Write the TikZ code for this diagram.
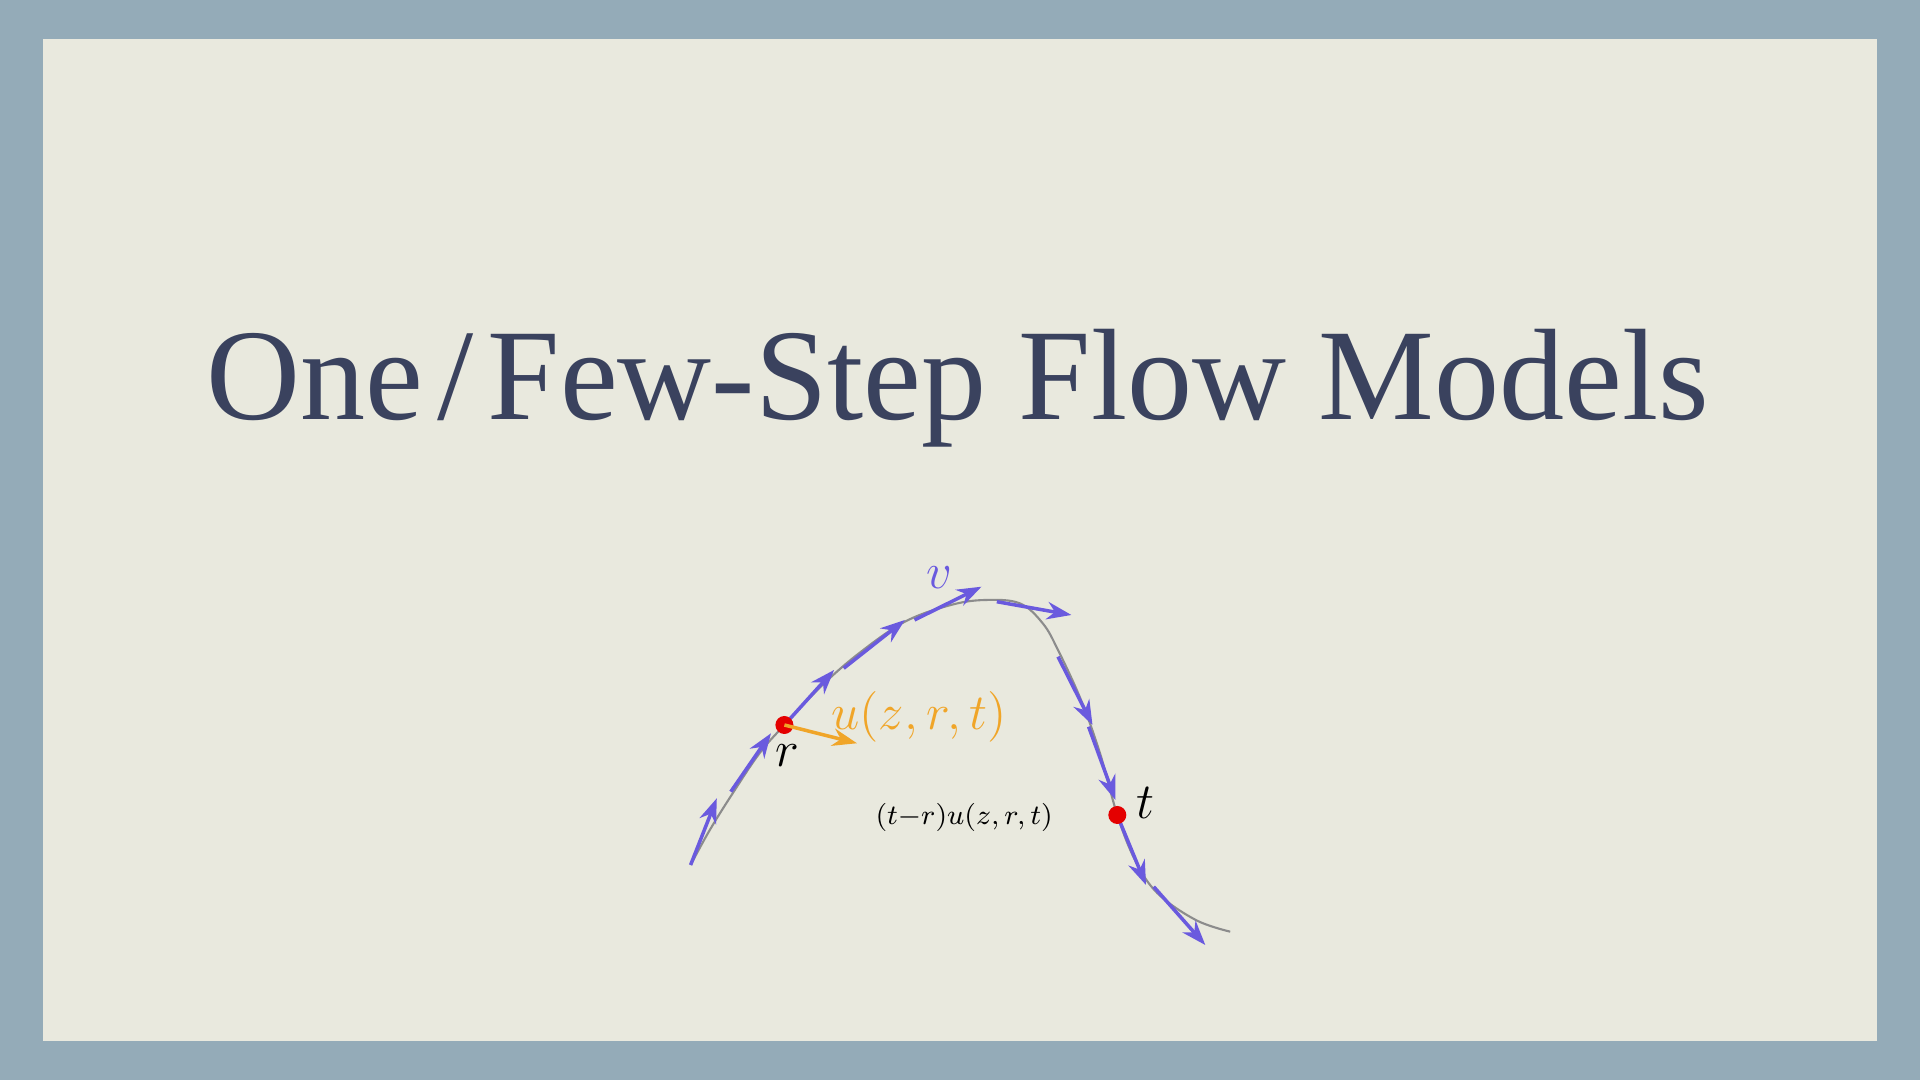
\documentclass[tikz,border=0pt]{standalone}
\usepackage{fontspec}
\usetikzlibrary{arrows.meta,positioning}
\newfontfamily\titlefont{Liberation Serif}

\definecolor{framegray}{RGB}{148,171,184}
\definecolor{paper}{RGB}{233,233,222}
\definecolor{titleink}{RGB}{58,66,94}
\definecolor{flowblue}{RGB}{106,90,222}
\definecolor{uorange}{RGB}{240,165,40}
\definecolor{dotred}{RGB}{228,0,0}
\definecolor{pathgray}{RGB}{140,140,140}

\tikzset{
  flowarrow/.style={flowblue, line width=1pt, -{Stealth[length=7pt,width=5pt]}},
  timedot/.style={circle, fill=dotred, inner sep=0pt, minimum size=0.18cm},
  biglabel/.style={font=\fontsize{13.6}{16}\selectfont, inner sep=0pt}
}

\begin{document}
\begin{tikzpicture}[x=0.01cm, y=-0.01cm]

    % Slide frame and paper
    \fill[framegray] (0,0) rectangle (1920,1080);
    \fill[paper] (43,39) rectangle (1877,1041);
    \useasboundingbox (0,0) rectangle (1920,1080);

    % Title
    \node[anchor=base, text=titleink, inner sep=0pt, font=\titlefont\fontsize{37}{40}\selectfont] (title) at (958,420) {One\kern4pt/\kern4pt Few-Step Flow Models};

    % Gray trajectory
    \draw[pathgray, line width=0.6pt] plot[smooth, tension=0.6] coordinates {
      (690.6,865) (709.8,830) (732.7,793.3) (759.5,753.3) (784.4,725)
      (820.7,686.7) (859,653.3) (904.9,621.7) (950.9,605) (985.3,600)
      (1019.7,603.3) (1042.7,623.3) (1058,650) (1081,700) (1100,753.3)
      (1117.3,815) (1135,860) (1157.5,893.3) (1195.8,920) (1230.2,931.7)};

    % Blue velocity steps v along the path
    \draw[flowarrow] (690.6,865) -- (716.8,798.3);
    \draw[flowarrow] (730.8,791.7) -- (771,733.3);
    \draw[flowarrow] (784.4,725) -- (834.1,670);
    \draw[flowarrow] (843.7,668.3) -- (904.9,620);
    \draw[flowarrow] (914.5,620) -- (981.5,586.7);
    \draw[flowarrow] (996.8,601.7) -- (1071.4,615);
    \draw[flowarrow] (1058,656.7) -- (1092.5,725);
    \draw[flowarrow] (1088.6,726.7) -- (1115.4,800);
    \draw[flowarrow] (1119.2,820) -- (1146,885);
    \draw[flowarrow] (1153.7,886.7) -- (1205.3,945);
    \node[biglabel, text=flowblue] (vlab) at (939,578) {$v$};

    % Red points r and t
    \node[timedot] (r) at (784.4,725) {};
    \node[timedot] (t) at (1117.3,815) {};
    \node[biglabel] (rlab) at (787,756) {$r$};
    \node[biglabel] (tlab) at (1145,803) {$t$};

    % Orange average velocity u
    \coordinate (uend) at (857,743.3);
    \draw[uorange, line width=1pt, -{Stealth[length=7pt,width=5pt]}] (r.center) -- (uend);
    \node[biglabel, text=uorange] (ulab) at (919,717) {$u(z,r,t)$};

    % Displacement from r to t
    \node[font=\fontsize{8.5}{10}\selectfont, inner sep=0pt] (disp) at (964.2,817) {$(t{-}r)u(z,r,t)$};

\end{tikzpicture}
\end{document}
